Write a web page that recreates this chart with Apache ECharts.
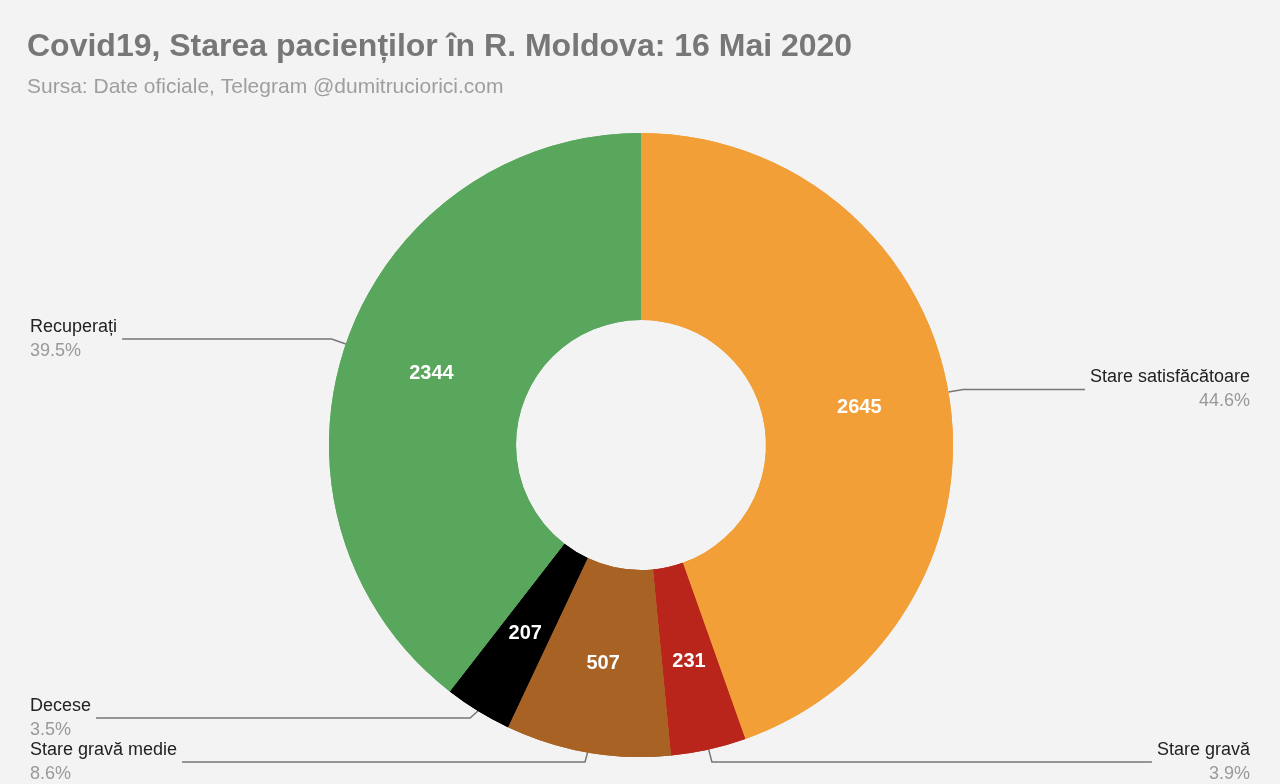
<!DOCTYPE html>
<html>
<head>
<meta charset="utf-8">
<script src="https://cdn.jsdelivr.net/npm/echarts@6/dist/echarts.min.js"></script>
<style>html,body{margin:0;padding:0;background:#f3f3f3;}#container{width:1280px;height:784px;}</style>
</head>
<body>
<div id="container"></div>
<script>
var categories = ['Stare satisfăcătoare', 'Stare gravă', 'Stare gravă medie', 'Decese', 'Recuperați'];
var values = [2645, 231, 507, 207, 2344];
var colors = ['#f29f38', '#b9251b', '#a86224', '#000000', '#59a75d'];

var data = categories.map(function (c, i) {
    return { name: c, value: values[i], itemStyle: { color: colors[i] } };
});

var myChart = echarts.init(document.getElementById('container'));
var option = {
    backgroundColor: '#f3f3f3',
    title: {
        text: 'Covid19, Starea pacienților în R. Moldova: 16 Mai 2020',
        subtext: 'Sursa: Date oficiale, Telegram @dumitruciorici.com',
        left: 22,
        top: 26,
        itemGap: 14,
        textStyle: { fontFamily: 'Liberation Sans', fontSize: 32, fontWeight: 'bold', color: '#777777' },
        subtextStyle: { fontFamily: 'Liberation Sans', fontSize: 21, color: '#9e9e9e' }
    },
    series: [
        {
            type: 'pie',
            center: [641, 445],
            radius: [125, 312],
            startAngle: 90,
            clockwise: true,
            silent: true,
            data: data,
            label: {
                show: true,
                position: 'outside',
                alignTo: 'edge',
                edgeDistance: 30,
                formatter: function (p) { return '{n|' + p.name + '}\n{p|' + p.percent.toFixed(1) + '%}'; },
                rich: {
                    n: { fontFamily: 'Liberation Sans', fontSize: 18, color: '#222222', lineHeight: 24 },
                    p: { fontFamily: 'Liberation Sans', fontSize: 18, color: '#999999', lineHeight: 24 }
                }
            },
            labelLine: { show: true, length: 15, length2: 20, lineStyle: { color: '#777777', width: 1.5 } }
        },
        {
            type: 'pie',
            center: [641, 445],
            radius: [125, 312],
            startAngle: 90,
            clockwise: true,
            silent: true,
            data: data,
            itemStyle: { borderWidth: 0 },
            label: {
                show: true,
                position: 'inner',
                formatter: '{c}',
                fontFamily: 'Liberation Sans',
                fontSize: 20,
                fontWeight: 'bold',
                color: '#ffffff'
            },
            labelLine: { show: false }
        }
    ]
};
myChart.setOption(option);
</script>
</body>
</html>
